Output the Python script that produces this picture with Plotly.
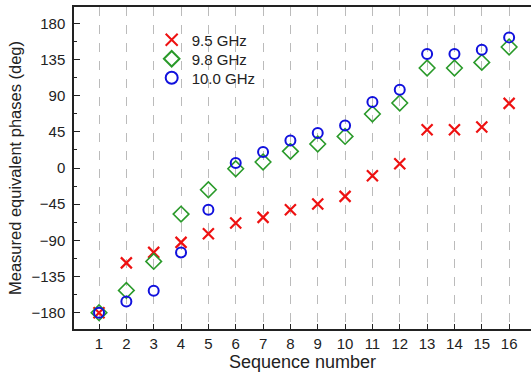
import plotly.graph_objects as go

seq = list(range(1, 17))
phase_95 = [-180, -118, -105, -92.5, -81.7, -68.5, -61.4, -51.9, -44.8, -35.3,
            -9.6, 5.3, 47.6, 47.6, 51, 80.4]
phase_98 = [-180, -152.3, -116.2, -57.3, -27, -1, 7.5, 20.7, 29.9, 39.3,
            67.2, 80.9, 124.4, 124.4, 131.4, 150.5]
phase_100 = [-180, -166, -152.7, -105, -51.9, 6.2, 19.9, 34.3, 43.5, 53,
             82.1, 97.4, 141.8, 141.8, 147.2, 162.5]
y_ticks = [-180, -135, -90, -45, 0, 45, 90, 135, 180]

FONT = "Liberation Sans, Arial, sans-serif"

fig = go.Figure()
fig.add_trace(go.Scatter(
    x=seq, y=phase_95, mode="markers", name="9.5 GHz", legend="legend",
    marker=dict(symbol="x-thin", size=11, color="rgba(0,0,0,0)",
                line=dict(color="#ee1111", width=2.2)),
))
fig.add_trace(go.Scatter(
    x=seq, y=phase_98, mode="markers", name="9.8 GHz", legend="legend2",
    marker=dict(symbol="diamond-open", size=12, color="#2a9a2a",
                line=dict(color="#2a9a2a", width=1.6)),
))
fig.add_trace(go.Scatter(
    x=seq, y=phase_100, mode="markers", name="10.0 GHz", legend="legend3",
    marker=dict(symbol="circle-open", size=10, color="#1111dd",
                line=dict(color="#1111dd", width=2)),
))

# one legend box per series so the rows sit on a tight pitch
legend_style = dict(x=0.17, xanchor="left", yanchor="middle",
                    bgcolor="rgba(0,0,0,0)", font=dict(size=15, family=FONT),
                    itemsizing="constant")

fig.update_layout(
    width=531, height=376,
    margin=dict(l=74, r=0, t=7, b=47),
    paper_bgcolor="white", plot_bgcolor="white",
    font=dict(family=FONT, size=15, color="#222222"),
    showlegend=True,
    legend=dict(y=0.8975, **legend_style),
    legend2=dict(y=0.8385, **legend_style),
    legend3=dict(y=0.7795, **legend_style),
    xaxis=dict(
        range=[0.085, 16.8], tickmode="array", tickvals=seq,
        showline=True, linecolor="#222222", linewidth=1.5, mirror=True,
        ticks="inside", ticklen=5, tickcolor="#222222",
        showgrid=True, gridcolor="#bbbbbb", griddash="dash", gridwidth=1,
        zeroline=False, automargin=False,
        title=dict(text="Sequence number", font=dict(size=18), standoff=4),
        tickfont=dict(size=15),
    ),
    yaxis=dict(
        range=[-200.3, 200.3], tickmode="array", tickvals=y_ticks,
        showline=True, linecolor="#222222", linewidth=1.5, mirror=False,
        ticks="inside", ticklen=6, tickcolor="#222222",
        minor=dict(ticks="inside", ticklen=3, dtick=22.5, tick0=0,
                   tickcolor="#222222", showgrid=False),
        showgrid=False, zeroline=False, automargin=False,
        ticklabelstandoff=4,
        title=dict(text="Measured equivalent phases (deg)",
                   font=dict(size=16.5), standoff=6),
        tickfont=dict(size=15),
    ),
)

fig.write_html("out.html")
